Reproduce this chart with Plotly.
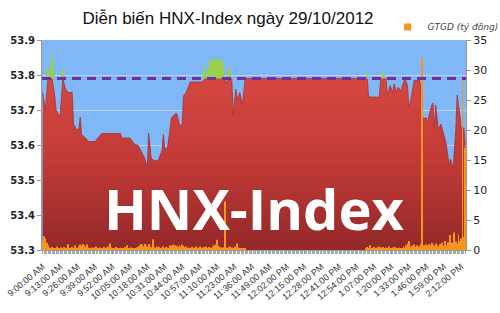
import plotly.graph_objects as go

# ---------------- data ----------------
chart_title = "Diễn biến HNX-Index ngày 29/10/2012"
watermark = "HNX-Index"
volume_name = "GTGD (tỷ đồng)"
session_start = "9:00"
reference_value = 53.79

index_times = [
    "9:00", "9:02", "9:04", "9:05", "9:07", "9:09", "9:10", "9:13", "9:15", "9:17",
    "9:19", "9:22", "9:23", "9:25", "9:27", "9:28", "9:29", "9:32", "9:34", "9:39",
    "9:41", "9:44", "9:58", "9:59", "10:05", "10:07", "10:09", "10:11", "10:14", "10:16",
    "10:18", "10:19", "10:21", "10:24", "10:26", "10:29", "10:30", "10:31", "10:33", "10:36",
    "10:39", "10:40", "10:42", "10:44", "10:45", "10:47", "10:50", "10:59", "11:01", "11:02",
    "11:05", "11:07", "11:09", "11:11", "11:14", "11:16", "11:17", "11:19", "11:21", "11:22",
    "11:24", "11:25", "11:27", "11:29", "11:31", "13:01", "13:02", "13:03", "13:11", "13:12",
    "13:13", "13:16", "13:17", "13:19", "13:21", "13:22", "13:24", "13:25", "13:27", "13:28",
    "13:30", "13:32", "13:33", "13:35", "13:37", "13:41", "13:42", "13:43", "13:46", "13:47",
    "13:50", "13:51", "13:52", "13:53", "13:55", "13:57", "13:59", "14:01", "14:03", "14:04",
    "14:06", "14:08", "14:09", "14:11", "14:13", "14:14", "14:15",
]
index_values = [
    53.75, 53.70, 53.83, 53.79, 53.87, 53.74, 53.70, 53.68, 53.82, 53.76,
    53.75, 53.75, 53.66, 53.645, 53.645, 53.68, 53.63, 53.62, 53.61, 53.61,
    53.62, 53.633, 53.633, 53.62, 53.62, 53.61, 53.60, 53.60, 53.58, 53.563,
    53.535, 53.634, 53.56, 53.555, 53.555, 53.585, 53.63, 53.59, 53.59, 53.677,
    53.69, 53.69, 53.657, 53.657, 53.74, 53.75, 53.78, 53.78, 53.837, 53.79,
    53.85, 53.84, 53.85, 53.84, 53.845, 53.79, 53.777, 53.83, 53.79, 53.686,
    53.76, 53.73, 53.75, 53.715, 53.79, 53.79, 53.81, 53.737, 53.737, 53.79,
    53.81, 53.79, 53.74, 53.77, 53.75, 53.775, 53.75, 53.765, 53.755, 53.765,
    53.79, 53.77, 53.705, 53.74, 53.785, 53.785, 53.76, 53.677, 53.677, 53.667,
    53.714, 53.72, 53.65, 53.714, 53.645, 53.66, 53.63, 53.60, 53.543, 53.56,
    53.535, 53.645, 53.743, 53.686, 53.61, 53.65, 53.60,
]

# trading value per minute (tỷ đồng)
volume_morning_start = "9:00"
volume_morning = [
    1.5, 2.3, 1.9, 1.2, 0.8, 0.4, 0.3, 0.5, 0.3, 0.2,
    0.3, 0.6, 0.2, 0.3, 0.4, 0.2, 0.5, 0.3, 0.4, 1.0,
    0.3, 0.2, 0.5, 0.3, 0.8, 0.4, 0.3, 0.6, 0.9, 0.7,
    1.0, 0.8, 0.5, 0.9, 0.4, 0.3, 0.2, 0.4, 0.3, 0.5,
    0.6, 0.3, 0.2, 0.4, 0.3, 0.2, 0.5, 0.3, 0.4, 0.6,
    1.1, 0.4, 0.3, 0.2, 0.3, 0.5, 0.2, 0.3, 0.4, 0.2,
    0.3, 0.5, 0.4, 0.8, 0.3, 0.2, 0.4, 0.3, 0.2, 0.3,
    0.4, 0.5, 0.7, 1.0, 0.9, 0.6, 1.0, 0.8, 0.5, 1.0,
    0.6, 0.4, 1.8, 0.5, 0.3, 0.6, 0.4, 0.5, 0.3, 0.4,
    0.6, 0.3, 0.5, 0.4, 0.3, 0.8, 0.7, 0.9, 0.6, 0.8,
    0.7, 0.5, 0.8, 0.6, 0.9, 0.7, 0.5, 0.6, 0.3, 0.4,
    0.3, 0.5, 0.4, 0.3, 0.6, 0.4, 0.3, 0.6, 0.4, 0.3,
    0.5, 0.4, 0.6, 0.3, 0.5, 0.4, 0.3, 0.6, 0.8, 0.9,
    1.7, 0.7, 0.5, 0.4, 0.3, 0.5, 8.1, 0.4, 0.3, 0.5,
    0.6, 0.4, 0.3, 0.5, 0.6, 1.1, 0.4, 0.3, 0.2, 0.3,
    0.2, 0.3,
]
volume_afternoon_start = "13:01"
volume_afternoon = [
    0.3, 0.5, 0.2, 0.8, 0.3, 0.2, 0.5, 0.3, 0.4, 0.2,
    0.6, 0.4, 0.3, 0.5, 0.2, 0.4, 0.3, 0.6, 0.3, 0.2,
    0.4, 0.3, 0.5, 0.2, 0.3, 0.4, 0.2, 0.3, 0.6, 0.4,
    0.8, 1.1, 1.5, 0.6, 0.7, 0.5, 0.9, 0.6, 0.8, 0.5,
    0.7, 1.0, 32.0, 0.8, 0.6, 0.9, 0.7, 1.0, 0.8, 1.2,
    0.9, 0.7, 1.1, 0.8, 0.6, 1.0, 0.9, 1.2, 0.7, 1.5,
    0.8, 1.3, 1.0, 2.5, 1.2, 0.9, 2.9, 1.4, 1.1, 2.6,
    1.5, 1.9, 28.9, 2.2, 17.0,
]

x_tick_labels = [
    "9:00:00 AM", "9:13:00 AM", "9:26:00 AM", "9:39:00 AM", "9:52:00 AM",
    "10:05:00 AM", "10:18:00 AM", "10:31:00 AM", "10:44:00 AM", "10:57:00 AM",
    "11:10:00 AM", "11:23:00 AM", "11:36:00 AM", "11:49:00 AM", "12:02:00 PM",
    "12:15:00 PM", "12:28:00 PM", "12:41:00 PM", "12:54:00 PM", "1:07:00 PM",
    "1:20:00 PM", "1:33:00 PM", "1:46:00 PM", "1:59:00 PM", "2:12:00 PM",
]


# ---------------- helpers ----------------
def hm_to_min(s):
    h, m = s.split(":")[:2]
    return int(h) * 60 + int(m)


def label_to_min(lbl):
    t, ampm = lbl.split(" ")
    h, m, _ = t.split(":")
    h = int(h) % 12 + (12 if ampm == "PM" else 0)
    return h * 60 + int(m)


t0 = hm_to_min(session_start)
idx_x = [hm_to_min(t) - t0 for t in index_times]
red_y = [min(v, reference_value) for v in index_values]
green_y = [max(v, reference_value) for v in index_values]
ref_y = [reference_value for _ in index_values]

vm0 = hm_to_min(volume_morning_start) - t0
va0 = hm_to_min(volume_afternoon_start) - t0
vol_x = [vm0 + i for i in range(len(volume_morning))] + [va0 + i for i in range(len(volume_afternoon))]
vol_y = volume_morning + volume_afternoon

tick_vals = [label_to_min(l) - t0 for l in x_tick_labels]

# ---------------- figure ----------------
fig = go.Figure()

fig.add_trace(go.Scatter(
    x=idx_x, y=red_y, mode="lines", fill="tozeroy",
    line=dict(color="#a83030", width=0.8),
    fillgradient=dict(type="vertical", start=53.3, stop=53.85,
                      colorscale=[[0, "#922828"], [0.45, "#c03a37"], [1, "#dc4a44"]]),
    showlegend=False, hoverinfo="skip",
))
fig.add_trace(go.Scatter(
    x=idx_x, y=ref_y, mode="lines", line=dict(width=0, color="rgba(0,0,0,0)"),
    showlegend=False, hoverinfo="skip",
))
fig.add_trace(go.Scatter(
    x=idx_x, y=green_y, mode="lines", fill="tonexty",
    line=dict(width=0, color="#6f9e2a"), fillcolor="#9bd048",
    showlegend=False, hoverinfo="skip",
))
fig.add_trace(go.Bar(
    x=vol_x, y=vol_y, yaxis="y2", marker=dict(color="#f7941e", line=dict(width=0)),
    name=volume_name, showlegend=False,
))
# legend marker for the volume series
fig.add_trace(go.Scatter(
    x=[None], y=[None], yaxis="y2", mode="markers",
    marker=dict(symbol="square", size=7, color="#f7941e"),
    name=volume_name, showlegend=True,
))

fig.add_shape(type="line", xref="x", yref="y", x0=-0.5, x1=315.6,
              y0=reference_value, y1=reference_value,
              line=dict(color="#7030a0", width=3, dash="9px,6px"))

fig.add_annotation(text=watermark, xref="paper", yref="paper", x=0.5, y=0.2,
                   xanchor="center", yanchor="middle", showarrow=False,
                   font=dict(family="Open Sans", size=56, color="#ffffff", weight="bold"))

fig.update_layout(
    width=500, height=313,
    margin=dict(l=42, r=34, t=40, b=63, autoexpand=False),
    paper_bgcolor="white", plot_bgcolor="#7fb7f7",
    bargap=0.3,
    title=dict(text=chart_title, x=0.456, xref="container", xanchor="center",
               y=0.943, yref="container", yanchor="middle",
               font=dict(family="Liberation Sans", size=17, color="#111")),
    legend=dict(x=0.815, y=1.062, xanchor="left", yanchor="middle",
                bgcolor="rgba(0,0,0,0)", itemwidth=30,
                font=dict(family="DejaVu Sans", size=9, color="#444", style="italic")),
    xaxis=dict(range=[-0.5, 315.6], tickmode="array", tickvals=tick_vals, ticktext=x_tick_labels,
               tickangle=-40, ticks="outside", ticklen=3, tickcolor="#999",
               ticklabelstandoff=4,
               showline=True, linecolor="#999", showgrid=False, zeroline=False,
               tickfont=dict(family="Liberation Sans", size=9, color="#333"),
               minor=dict(tickmode="linear", tick0=0, dtick=1, ticks="outside",
                          ticklen=3, tickcolor="#aaa", showgrid=False)),
    yaxis=dict(range=[53.3, 53.9], dtick=0.1, tickformat=".1f",
               ticks="outside", ticklen=4, tickcolor="#999",
               showline=True, linecolor="#999", gridcolor="#b6d6fb", gridwidth=1,
               zeroline=False,
               tickfont=dict(family="DejaVu Sans", size=10, color="#222", weight="bold")),
    yaxis2=dict(range=[0, 35], dtick=5, overlaying="y", side="right",
                ticks="outside", ticklen=4, tickcolor="#999",
                showline=True, linecolor="#999", showgrid=False, zeroline=False,
                tickfont=dict(family="DejaVu Sans", size=11, color="#222")),
)

fig.write_html("out.html")
